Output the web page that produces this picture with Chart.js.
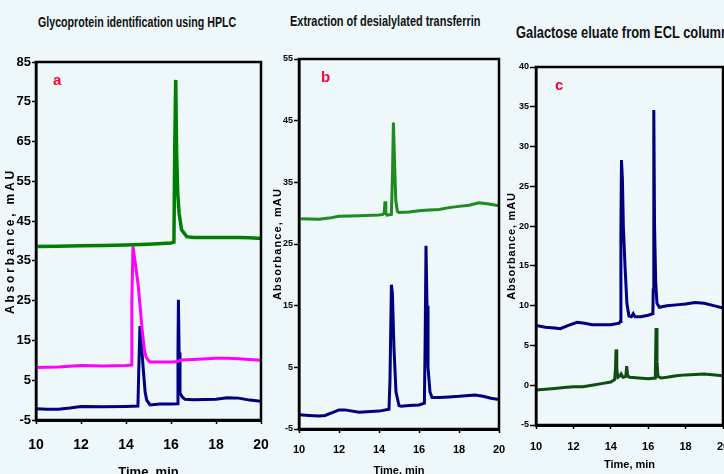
<!DOCTYPE html>
<html lang="en">
<head>
<meta charset="UTF-8">
<title>HPLC chromatograms</title>
<script src="https://cdn.jsdelivr.net/npm/chart.js"></script>
<style>
  body {
    margin: 0;
    width: 724px;
    height: 474px;
    overflow: hidden;
    position: relative;
    background: #eef7f9;
    font-family: 'Liberation Sans', Arial, sans-serif;
  }
  .titulo {
    position: absolute;
    font-weight: bold;
    font-size: 15px;
    white-space: nowrap;
    color: #111;
    transform: scaleX(0.73);
    transform-origin: left top;
  }
  .letra {
    position: absolute;
    color: #ff0033;
    font: bold 15px 'Liberation Sans', Arial, sans-serif;
  }
  canvas { position: absolute; }
</style>
</head>
<body>

<div class="titulo" style="left:38px; top:13px; transform:scaleX(0.71)">Glycoprotein identification using HPLC</div>
<div class="titulo" style="left:290px; top:12px">Extraction of desialylated transferrin</div>
<div class="titulo" style="left:516px; top:23px; font-size:16.5px; transform:scaleX(0.78)">Galactose eluate from ECL column</div>

<canvas id="grafA" width="270" height="430" style="left:0px; top:50px"></canvas>
<canvas id="grafB" width="245" height="435" style="left:262px; top:45px"></canvas>
<canvas id="grafC" width="224" height="430" style="left:502px; top:50px"></canvas>

<div class="letra" style="left:53px; top:71px">a</div>
<div class="letra" style="left:321px; top:68px">b</div>
<div class="letra" style="left:555px; top:76px">c</div>

<script>
// ---- dados: [tempo (min), absorbancia (mAU)] ----
const verdeA = [[10,38.6],[11,38.7],[12,38.8],[13,38.9],[14,39.0],[15,39.2],[16,39.5],[16.13,39.7],[16.17,65],[16.21,80.5],[16.25,62],[16.3,52],[16.36,47],[16.47,42.8],[16.7,41.1],[17,40.9],[18,40.9],[19,40.9],[19.5,40.8],[20,40.6]];
const magentaA = [[10,8.2],[11,8.3],[12,8.7],[13,8.6],[14,8.7],[14.24,8.8],[14.26,25],[14.31,38.6],[14.4,35],[14.55,28.5],[14.72,17.6],[14.82,12.5],[14.89,10.9],[15,9.9],[15.07,9.6],[15.5,9.6],[16,9.6],[16.3,9.7],[16.45,10.1],[17,10.2],[18,10.5],[18.5,10.5],[19,10.4],[20,10]];
const azulA = [[10,-2.2],[10.5,-2.3],[11,-2.3],[11.5,-2.0],[12,-1.6],[13,-1.7],[14,-1.6],[14.53,-1.5],[14.57,8],[14.62,18.6],[14.67,15],[14.77,7.6],[14.85,2],[14.92,0],[15.07,-1.2],[15.5,-1.0],[16,-1.0],[16.28,-0.9],[16.31,12],[16.33,25.2],[16.36,12],[16.4,1.8],[16.5,0.8],[16.62,0.2],[17,0.1],[18,0.2],[18.5,0.6],[19,0.5],[19.5,0.0],[20,-0.3]];

const verdeB = [[10,29.1],[11,29.0],[11.5,29.2],[12,29.5],[13,29.6],[14,29.7],[14.2,29.8],[14.26,30],[14.3,31.9],[14.34,30],[14.4,29.7],[14.62,29.8],[14.68,37],[14.72,44.7],[14.78,38],[14.84,32],[14.92,30.3],[15,30.1],[15.5,30.2],[16,30.4],[16.5,30.5],[17,30.6],[17.5,30.9],[18,31.1],[18.5,31.3],[19,31.7],[19.5,31.5],[20,31.2]];
const azulB = [[10,-2.7],[10.5,-2.8],[11,-2.9],[11.3,-2.8],[11.7,-2.3],[12,-1.9],[12.3,-1.9],[13,-2.3],[14,-2.1],[14.5,-1.8],[14.55,3],[14.62,18.4],[14.67,17],[14.75,8],[14.85,1],[15,-1.2],[15.1,-1.3],[15.5,-1.2],[16,-1.1],[16.27,-0.8],[16.31,10],[16.35,24.7],[16.4,15],[16.45,5],[16.55,1],[16.65,0.1],[17,0.1],[17.5,0.2],[18,0.3],[18.5,0.45],[18.8,0.5],[19.2,0.3],[19.6,0.0],[20,-0.2]];

const azulC = [[10,7.5],[10.5,7.3],[11,7.2],[11.3,7.1],[11.7,7.5],[12.2,7.9],[12.6,7.8],[13,7.6],[14,7.6],[14.45,7.8],[14.5,8],[14.54,19],[14.57,28.3],[14.62,26],[14.67,20],[14.76,15],[14.86,10.3],[14.97,8.7],[15.1,8.6],[15.2,9.0],[15.3,8.6],[15.6,8.6],[16,8.8],[16.25,9],[16.27,12],[16.3,34.6],[16.34,20],[16.4,13],[16.47,10.3],[16.6,9.8],[17,10],[17.5,10.1],[18,10.2],[18.5,10.4],[19,10.3],[19.5,10],[20,9.7]];
const verdeC = [[10,-0.6],[10.5,-0.5],[11,-0.4],[11.5,-0.3],[12,-0.2],[12.5,-0.2],[13,0.0],[13.5,0.2],[14,0.4],[14.2,0.7],[14.25,2],[14.28,4.5],[14.32,2],[14.38,1.0],[14.5,1.2],[14.55,1.4],[14.65,1.0],[14.8,1.1],[14.85,2.4],[14.9,1.2],[15,1.0],[15.5,0.9],[16,0.8],[16.38,0.9],[16.42,7.2],[16.47,3],[16.52,1.1],[16.7,0.9],[17,1.0],[17.5,1.2],[18,1.3],[19,1.4],[20,1.2]];

const fonte = "'Liberation Sans', Arial, sans-serif";

// moldura preta em volta da area do grafico
const moldura = {
    id: 'moldura',
    afterDatasetsDraw(chart, args, opts) {
        const { ctx, chartArea: a } = chart;
        ctx.save();
        ctx.strokeStyle = '#000';
        ctx.lineWidth = opts.largura || 2;
        ctx.strokeRect(a.left, a.top, a.right - a.left, a.bottom - a.top);
        ctx.restore();
    }
};

// o titulo do eixo y tem as letras espacadas
function espacarTitulo(s, espaco) {
    if (s._espacado) return;
    s._espacado = true;
    const original = s.drawTitle;
    s.drawTitle = function () {
        this.ctx.save();
        this.ctx.letterSpacing = espaco + 'px';
        original.call(this);
        this.ctx.restore();
    };
}

function serie(pontos, cor, largura) {
    return {
        data: pontos.map(([x, y]) => ({ x, y })),
        borderColor: cor,
        borderWidth: largura,
        pointRadius: 0,
        tension: 0,
        fill: false
    };
}

function grafico(id, series, c) {
    return new Chart(document.getElementById(id), {
        type: 'line',
        data: { datasets: series },
        options: {
            responsive: false,
            animation: false,
            layout: { padding: { top: c.padTop, right: c.padRight, left: 0, bottom: 0 } },
            plugins: {
                legend: { display: false },
                tooltip: { enabled: false },
                moldura: { largura: 2.5 }
            },
            scales: {
                x: {
                    type: 'linear',
                    min: 10,
                    max: 20,
                    ticks: { stepSize: 2, color: '#000', padding: c.xPad, font: { family: fonte, size: c.xFonte, weight: 'bold' } },
                    grid: { drawOnChartArea: false, color: '#000', tickLength: 4, tickWidth: 1.5 },
                    border: { color: '#000', width: 3 },
                    title: { display: true, text: 'Time, min', color: '#000', padding: { top: 0, bottom: c.xTitPad }, font: { family: fonte, size: c.xTitFonte, weight: 'bold' } },
                    afterFit: s => { s.height = c.xAltura; s.paddingLeft = 0; s.paddingRight = 0; }
                },
                y: {
                    min: c.yMin,
                    max: c.yMax,
                    ticks: { stepSize: c.yPasso, color: '#000', padding: 1, font: { family: fonte, size: c.yFonte, weight: 'bold' } },
                    grid: { drawOnChartArea: false, color: '#000', tickLength: c.yTick, tickWidth: 1.5 },
                    border: { color: '#000', width: 2.5 },
                    title: { display: true, text: 'Absorbance, mAU', color: '#000', padding: { top: c.yTitPad, bottom: 0 }, font: { family: fonte, size: c.yTitFonte, weight: 'bold' } },
                    afterFit: s => { s.width = c.yLargura; espacarTitulo(s, c.yEspaco); }
                }
            }
        },
        plugins: [moldura]
    });
}

grafico('grafA', [
    serie(verdeA, '#008000', 3.5),
    serie(magentaA, '#ff00ff', 3),
    serie(azulA, '#000080', 3)
], { padTop: 12, padRight: 9, yLargura: 36, xAltura: 60, yMin: -5, yMax: 85, yPasso: 10,
     yFonte: 13, xFonte: 14, yTick: 4, xPad: 13, xTitFonte: 13, xTitPad: 0,
     yTitFonte: 12, yTitPad: 3, yEspaco: 2.8 });

grafico('grafB', [
    serie(verdeB, '#1f8a1f', 3),
    serie(azulB, '#000080', 3)
], { padTop: 14, padRight: 8, yLargura: 37, xAltura: 51, yMin: -5, yMax: 55, yPasso: 10,
     yFonte: 9, xFonte: 11, yTick: 5, xPad: 10, xTitFonte: 11, xTitPad: 2,
     yTitFonte: 11, yTitPad: 9, yEspaco: 1.1 });

grafico('grafC', [
    serie(azulC, '#000080', 3),
    serie(verdeC, '#0f4d12', 3)
], { padTop: 17, padRight: 3, yLargura: 34, xAltura: 55, yMin: -5, yMax: 40, yPasso: 5,
     yFonte: 9, xFonte: 11, yTick: 6, xPad: 11, xTitFonte: 11, xTitPad: 8,
     yTitFonte: 11, yTitPad: 3, yEspaco: 0.8 });
</script>

</body>
</html>
